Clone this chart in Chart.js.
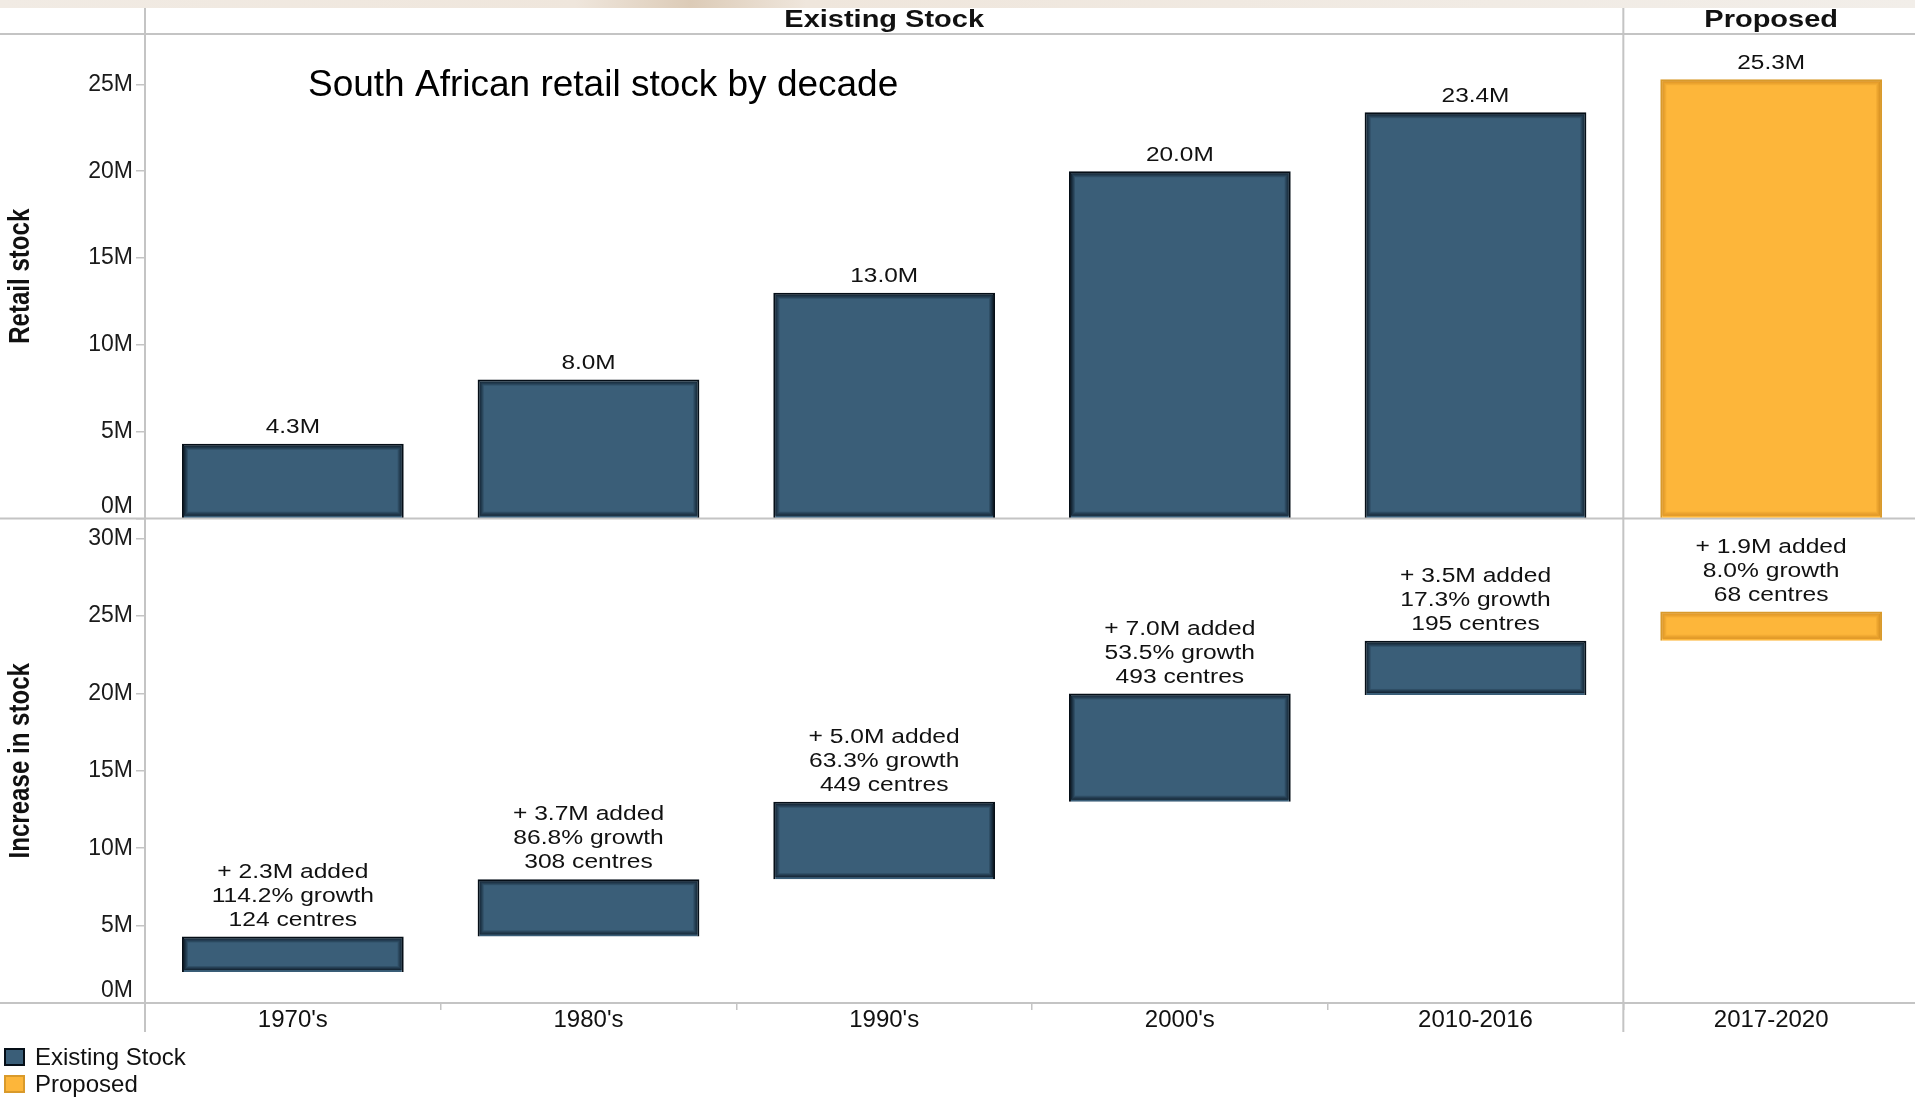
<!DOCTYPE html>
<html>
<head>
<meta charset="utf-8">
<title>South African retail stock by decade</title>
<script src="https://cdn.jsdelivr.net/npm/chart.js@4.4.1/dist/chart.umd.min.js"></script>
<style>
  html, body { margin: 0; padding: 0; background: #fff; }
  #wrap { position: relative; width: 1915px; height: 1097px; overflow: hidden; }
  #stockChart { position: absolute; left: 0; top: 0; }
  .legend { position: absolute; left: 4px; top: 1043px; font: 24px "Liberation Sans", Arial, sans-serif; color: #111; }
  .legend-row { display: flex; align-items: center; height: 27px; }
  .swatch { width: 17px; height: 14px; margin-right: 10px; border: 2px solid; }
</style>
</head>
<body>
<div id="wrap">
  <!-- the plot runs a few pixels past the right edge of the frame -->
  <canvas id="stockChart" width="1919" height="1097"></canvas>
  <div class="legend" id="legend"></div>
</div>
<script>
const categories = ["1970's", "1980's", "1990's", "2000's", "2010-2016", "2017-2020"];
const stockType = ["existing", "existing", "existing", "existing", "existing", "proposed"];
const retailStock = [4.3, 8.0, 13.0, 20.0, 23.4, 25.3];
const stockAdded = [2.3, 3.7, 5.0, 7.0, 3.5, 1.9];
const growthPct = [114.2, 86.8, 63.3, 53.5, 17.3, 8.0];
const centreCount = [124, 308, 449, 493, 195, 68];
const stockTicks = [0, 5, 10, 15, 20, 25];
const increaseTicks = [0, 5, 10, 15, 20, 25, 30];

const typeNames = { existing: "Existing Stock", proposed: "Proposed" };
const fillColors = { existing: "#3a5e78", proposed: "#fdb63a" };
const edgeColors = { existing: "#050e17", proposed: "#d99a2b" };
const glowColors = { existing: "5, 15, 26", proposed: "205, 135, 30" };
const lineColor = "#c4c4c4";
const sans = "'Liberation Sans', Arial, sans-serif";

// each bar in the lower panel floats from the previous total up to the new total
const increaseBars = retailStock.map((v, i) => [Number((v - stockAdded[i]).toFixed(1)), v]);

function drawStretched(ctx, text, x, y, sx) {
  ctx.save();
  ctx.translate(x, y);
  ctx.scale(sx, 1);
  ctx.fillText(text, 0, 0);
  ctx.restore();
}

function barRect(el) {
  const p = el.getProps(["x", "y", "base", "width"], true);
  return {
    left: p.x - p.width / 2,
    right: p.x + p.width / 2,
    top: Math.min(p.y, p.base),
    bottom: Math.max(p.y, p.base),
    cx: p.x
  };
}

const framePlugin = {
  id: "frame",
  beforeDraw(chart) {
    // lift the "0M" labels clear of the panel rules
    ["yTop", "yBottom"].forEach((id) => {
      chart.scales[id].getLabelItems().forEach((item) => {
        if (item.label === "0M") item.options.translation[1] -= 12;
      });
    });
  },
  beforeDatasetsDraw(chart) {
    const { ctx, chartArea, width, scales } = chart;
    const x = scales.x;
    const split = (x.getPixelForValue(4) + x.getPixelForValue(5)) / 2;

    // strip of photo background along the top edge
    const band = ctx.createLinearGradient(0, 0, width, 0);
    band.addColorStop(0, "#f1ebe4");
    band.addColorStop(0.3, "#efe6dc");
    band.addColorStop(0.36, "#dccbb7");
    band.addColorStop(0.42, "#efe6dc");
    band.addColorStop(1, "#f2eee9");
    ctx.fillStyle = band;
    ctx.fillRect(0, 0, width, 8);

    ctx.save();
    ctx.strokeStyle = lineColor;
    ctx.lineWidth = 2;
    const mid = scales.yTop.bottom;
    [chartArea.top, mid, chartArea.bottom].forEach((y) => {
      ctx.beginPath();
      ctx.moveTo(0, y);
      ctx.lineTo(width, y);
      ctx.stroke();
    });
    [chartArea.left, split].forEach((xp) => {
      ctx.beginPath();
      ctx.moveTo(xp, 8);
      ctx.lineTo(xp, chartArea.bottom + 29);
      ctx.stroke();
    });

    // column headers
    ctx.fillStyle = "#111";
    ctx.font = `bold 23px ${sans}`;
    ctx.textAlign = "center";
    ctx.textBaseline = "middle";
    drawStretched(ctx, typeNames.existing, (chartArea.left + split) / 2, 21, 1.26);
    drawStretched(ctx, typeNames.proposed, (split + chartArea.right) / 2, 21, 1.26);

    // panel titles, condensed and turned up the left edge
    ctx.font = `bold 29px ${sans}`;
    [[scales.yTop, "Retail stock"], [scales.yBottom, "Increase in stock"]].forEach(([s, text]) => {
      ctx.save();
      ctx.translate(21, (s.top + s.bottom) / 2);
      ctx.rotate(-Math.PI / 2);
      ctx.scale(0.83, 1);
      ctx.fillText(text, 0, 0);
      ctx.restore();
    });

    // chart title inside the upper panel
    ctx.fillStyle = "#000";
    ctx.font = `37px ${sans}`;
    ctx.textAlign = "left";
    ctx.textBaseline = "alphabetic";
    ctx.fillText("South African retail stock by decade", chartArea.left + 163, 96);
    ctx.restore();
  }
};

const labelPlugin = {
  id: "barLabels",
  afterDatasetsDraw(chart) {
    const { ctx } = chart;
    ctx.save();

    // soft dark rim inside every bar
    chart.data.datasets.forEach((ds, di) => {
      chart.getDatasetMeta(di).data.forEach((el, i) => {
        const r = barRect(el);
        const rgb = glowColors[stockType[i]];
        for (let k = 0; k < 4; k++) {
          ctx.strokeStyle = `rgba(${rgb}, ${0.7 - k * 0.17})`;
          ctx.lineWidth = 1;
          ctx.strokeRect(r.left + 2.5 + k, r.top + 2.5 + k, r.right - r.left - 5 - 2 * k, r.bottom - r.top - 5 - 2 * k);
        }
      });
    });

    ctx.fillStyle = "#111";
    ctx.textAlign = "center";
    ctx.textBaseline = "middle";

    ctx.font = `20px ${sans}`;
    chart.getDatasetMeta(0).data.forEach((el, i) => {
      const r = barRect(el);
      drawStretched(ctx, `${retailStock[i].toFixed(1)}M`, r.cx, r.top - 16, 1.22);
    });

    ctx.font = `20.5px ${sans}`;
    chart.getDatasetMeta(1).data.forEach((el, i) => {
      const r = barRect(el);
      const lines = [
        `+ ${stockAdded[i].toFixed(1)}M added`,
        `${growthPct[i].toFixed(1)}% growth`,
        `${centreCount[i]} centres`
      ];
      lines.forEach((line, k) => {
        drawStretched(ctx, line, r.cx, r.top - 16.5 - (2 - k) * 24, 1.2);
      });
    });
    ctx.restore();
  }
};

function panelAxis(ticks, max) {
  return {
    type: "linear",
    position: "left",
    stack: "panels",
    stackWeight: 1,
    min: 0,
    max: max,
    afterBuildTicks: (scale) => { scale.ticks = ticks.map((v) => ({ value: v })); },
    afterFit: (scale) => { scale.width = 145; },
    border: { display: false },
    grid: { drawOnChartArea: false, tickLength: 9, color: lineColor, lineWidth: 1.5 },
    ticks: {
      padding: 3,
      color: "#1a1a1a",
      font: { family: sans, size: 23 },
      callback: (v) => `${v}M`
    }
  };
}

new Chart(document.getElementById("stockChart"), {
  type: "bar",
  data: {
    labels: categories,
    datasets: [
      {
        label: "Retail stock",
        data: retailStock,
        yAxisID: "yTop",
        backgroundColor: stockType.map((t) => fillColors[t]),
        borderColor: stockType.map((t) => edgeColors[t]),
        borderWidth: 2
      },
      {
        label: "Increase in stock",
        data: increaseBars,
        yAxisID: "yBottom",
        backgroundColor: stockType.map((t) => fillColors[t]),
        borderColor: stockType.map((t) => edgeColors[t]),
        borderWidth: 2
      }
    ]
  },
  options: {
    responsive: false,
    animation: false,
    grouped: false,
    barPercentage: 0.75,
    categoryPercentage: 1,
    layout: { padding: { top: 34, right: 0, bottom: 64, left: 0 } },
    scales: {
      x: {
        offset: true,
        afterFit: (scale) => { scale.height = 30; },
        border: { display: false },
        grid: { drawOnChartArea: false, offset: true, tickLength: 7, color: lineColor, lineWidth: 1.5 },
        ticks: { padding: -4, color: "#111", font: { family: sans, size: 24 } }
      },
      // left-hand stacked axes are laid out last-first, so the lower panel is declared first
      yBottom: panelAxis(increaseTicks, 31.3),
      yTop: panelAxis(stockTicks, 27.9)
    },
    plugins: {
      legend: { display: false },
      tooltip: { enabled: false }
    }
  },
  plugins: [framePlugin, labelPlugin]
});

// legend for the two stock types
document.getElementById("legend").innerHTML = Object.keys(typeNames)
  .map((t) => `
    <div class="legend-row">
      <span class="swatch" style="background:${fillColors[t]};border-color:${edgeColors[t]}"></span>
      <span>${typeNames[t]}</span>
    </div>
  `)
  .join("");
</script>
</body>
</html>
